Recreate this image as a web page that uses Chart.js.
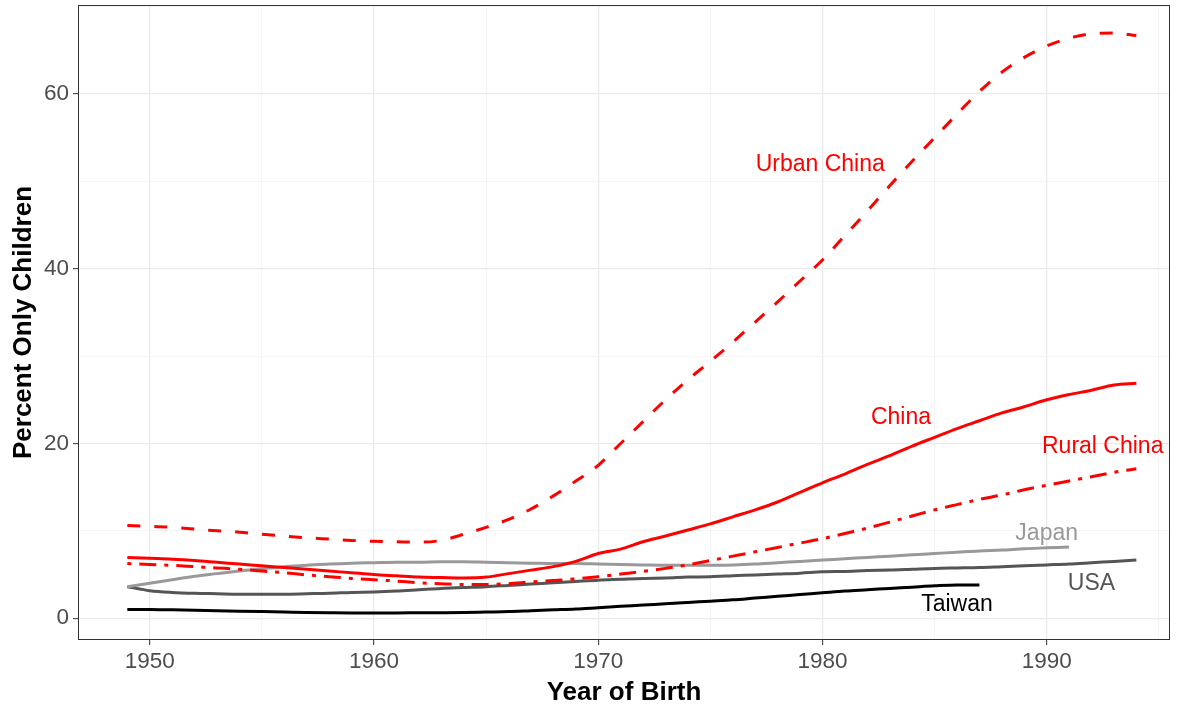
<!DOCTYPE html>
<html>
<head>
<meta charset="utf-8">
<script src="https://cdn.jsdelivr.net/npm/chart.js@4.4.1/dist/chart.umd.min.js"></script>
<style>
  html, body { margin: 0; padding: 0; background: #fff; }
  #wrap { width: 1180px; height: 710px; }
</style>
</head>
<body>
<div id="wrap"><canvas id="chart"></canvas></div>
<script>
// birth years
const years = [1949, 1950, 1951, 1952, 1953, 1954, 1955, 1956, 1957, 1958,
  1959, 1960, 1961, 1962, 1963, 1964, 1965, 1966, 1967, 1968,
  1969, 1970, 1971, 1972, 1973, 1974, 1975, 1976, 1977, 1978,
  1979, 1980, 1981, 1982, 1983, 1984, 1985, 1986, 1987, 1988,
  1989, 1990, 1991, 1992, 1993, 1994];

const urbanChina = [10.6, 10.5, 10.4, 10.2, 10.0, 9.85, 9.6, 9.4, 9.2, 9.05,
  8.9, 8.8, 8.75, 8.7, 8.9, 9.6, 10.4, 11.3, 12.5, 14.0,
  15.7, 17.5, 20.0, 22.5, 25.0, 27.3, 29.4, 31.6, 33.9, 36.2,
  38.6, 41.0, 43.8, 46.6, 49.5, 52.3, 55.0, 57.7, 60.3, 62.5,
  64.2, 65.5, 66.4, 66.9, 67.0, 66.7];

const china = [6.95, 6.85, 6.75, 6.6, 6.4, 6.2, 6.0, 5.8, 5.6, 5.4,
  5.2, 5.0, 4.85, 4.7, 4.65, 4.6, 4.7, 5.1, 5.5, 5.9,
  6.5, 7.4, 7.9, 8.75, 9.4, 10.1, 10.8, 11.6, 12.4, 13.3,
  14.4, 15.5, 16.5, 17.6, 18.6, 19.7, 20.7, 21.7, 22.6, 23.5,
  24.2, 25.0, 25.6, 26.1, 26.7, 26.9];

const ruralChina = [6.25, 6.15, 6.05, 5.9, 5.75, 5.6, 5.4, 5.2, 4.95, 4.75,
  4.55, 4.4, 4.25, 4.05, 3.95, 3.85, 3.85, 3.95, 4.15, 4.3,
  4.5, 4.75, 5.05, 5.35, 5.7, 6.1, 6.6, 7.1, 7.6, 8.1,
  8.6, 9.1, 9.7, 10.3, 11.0, 11.7, 12.4, 13.0, 13.6, 14.1,
  14.7, 15.2, 15.7, 16.2, 16.7, 17.1];

// Japan runs 1949-1991
const japan = [3.6, 4.0, 4.4, 4.8, 5.1, 5.4, 5.65, 5.9, 6.05, 6.2,
  6.3, 6.35, 6.4, 6.4, 6.45, 6.45, 6.4, 6.35, 6.3, 6.25,
  6.25, 6.2, 6.15, 6.1, 6.05, 6.05, 6.05, 6.1, 6.2, 6.35,
  6.5, 6.65, 6.8, 6.95, 7.1, 7.25, 7.4, 7.55, 7.7, 7.8,
  7.95, 8.05, 8.15];

const usa = [3.6, 3.15, 2.95, 2.85, 2.8, 2.75, 2.75, 2.75, 2.8, 2.85,
  2.95, 3.0, 3.1, 3.25, 3.4, 3.5, 3.6, 3.75, 3.9, 4.05,
  4.2, 4.35, 4.45, 4.55, 4.6, 4.7, 4.75, 4.85, 4.95, 5.05,
  5.15, 5.3, 5.35, 5.45, 5.5, 5.6, 5.7, 5.75, 5.8, 5.9,
  6.0, 6.1, 6.2, 6.35, 6.5, 6.65];

// Taiwan runs 1949-1987
const taiwan = [1.0, 1.0, 0.95, 0.9, 0.85, 0.8, 0.75, 0.7, 0.65, 0.62,
  0.6, 0.6, 0.6, 0.62, 0.63, 0.65, 0.7, 0.75, 0.85, 0.95,
  1.05, 1.2, 1.35, 1.5, 1.65, 1.8, 1.95, 2.1, 2.3, 2.5,
  2.7, 2.9, 3.1, 3.25, 3.4, 3.55, 3.7, 3.8, 3.8];

const xTicks = [1950, 1955, 1960, 1965, 1970, 1975, 1980, 1985, 1990, 1995];
const yTicks = [0, 10, 20, 30, 40, 50, 60, 70];

// direct labels: text, year, percent, colour
const labelText = ['Urban China', 'China', 'Rural China', 'Japan', 'USA', 'Taiwan'];
const labelX = [1979.9, 1983.5, 1992.5, 1990.0, 1992.0, 1986.0];
const labelY = [51.9, 22.9, 19.6, 9.7, 4.0, 1.5];
const labelColor = ['#ff0000', '#ff0000', '#ff0000', '#999999', '#555555', '#000000'];

function pts(vals) {
  return vals.map((v, i) => ({x: years[i], y: v}));
}

function line(data, color, dash) {
  return {
    data: pts(data),
    borderColor: color,
    borderWidth: 3,
    borderDash: dash,
    pointRadius: 0,
    fill: false,
    cubicInterpolationMode: 'monotone'
  };
}

const FONT = '"Liberation Sans", Arial, Helvetica, sans-serif';

const frame = {
  id: 'frame',
  afterDraw(chart) {
    const a = chart.chartArea, c = chart.ctx;
    c.save();
    c.strokeStyle = '#333333';
    c.lineWidth = 1;
    c.strokeRect(Math.round(a.left) + 0.5, Math.round(a.top) + 0.5,
      Math.round(a.right - a.left) - 1, Math.round(a.bottom - a.top) - 1);
    c.restore();
  }
};

const labels = {
  id: 'labels',
  afterDatasetsDraw(chart) {
    const c = chart.ctx, xs = chart.scales.x, ys = chart.scales.y;
    c.save();
    c.font = '23px ' + FONT;
    c.textAlign = 'center';
    c.textBaseline = 'middle';
    labelText.forEach((t, i) => {
      c.fillStyle = labelColor[i];
      c.fillText(t, xs.getPixelForValue(labelX[i]), ys.getPixelForValue(labelY[i]));
    });
    c.restore();
  }
};

const isMajor = (v) => v % 10 === 0;

new Chart(document.getElementById('chart'), {
  type: 'line',
  data: {
    datasets: [
      line(urbanChina, '#ff0000', [13, 14]),
      line(china, '#ff0000', []),
      line(ruralChina, '#ff0000', [4, 8, 17, 8]),
      line(japan, '#999999', []),
      line(usa, '#555555', []),
      line(taiwan, '#000000', [])
    ]
  },
  options: {
    responsive: true,
    maintainAspectRatio: false,
    animation: false,
    layout: { padding: { top: 5, right: 10, left: 0, bottom: 0 } },
    plugins: { legend: { display: false }, tooltip: { enabled: false } },
    scales: {
      x: {
        type: 'linear',
        min: 1946.8,
        max: 1995.5,
        afterBuildTicks: (axis) => { axis.ticks = xTicks.map(v => ({value: v})); },
        afterFit: (axis) => { axis.height = 70; axis.paddingLeft = 0; axis.paddingRight = 0; },
        grid: {
          color: (ctx) => isMajor(ctx.tick.value) ? '#ebebeb' : '#f2f2f2',
          lineWidth: (ctx) => isMajor(ctx.tick.value) ? 1.3 : 0.8,
          tickColor: (ctx) => isMajor(ctx.tick.value) ? '#333333' : 'rgba(0,0,0,0)',
          tickLength: 5,
          tickWidth: 1
        },
        border: { display: false },
        ticks: {
          color: '#4d4d4d',
          font: { family: FONT, size: 22.5 },
          padding: 3,
          maxRotation: 0,
          autoSkip: false,
          callback: (v) => isMajor(v) ? String(v) : ''
        },
        title: {
          display: true,
          text: 'Year of Birth',
          color: '#000000',
          font: { family: FONT, size: 26, weight: 'bold' },
          padding: { top: 0, bottom: 2 }
        }
      },
      y: {
        type: 'linear',
        min: -2.5,
        max: 70.2,
        afterBuildTicks: (axis) => { axis.ticks = yTicks.map(v => ({value: v})); },
        afterFit: (axis) => { axis.width = 78; axis.paddingTop = 0; axis.paddingBottom = 0; },
        grid: {
          color: (ctx) => ctx.tick.value % 20 === 0 ? '#ebebeb' : '#f2f2f2',
          lineWidth: (ctx) => ctx.tick.value % 20 === 0 ? 1.3 : 0.8,
          tickColor: (ctx) => ctx.tick.value % 20 === 0 ? '#333333' : 'rgba(0,0,0,0)',
          tickLength: 5,
          tickWidth: 1
        },
        border: { display: false },
        ticks: {
          color: '#4d4d4d',
          font: { family: FONT, size: 22.5 },
          padding: 4,
          autoSkip: false,
          callback: (v) => v % 20 === 0 ? String(v) : ''
        },
        title: {
          display: true,
          text: 'Percent Only Children',
          color: '#000000',
          font: { family: FONT, size: 26, weight: 'bold' },
          padding: { top: 8, bottom: 0 }
        }
      }
    }
  },
  plugins: [frame, labels]
});
</script>
</body>
</html>
